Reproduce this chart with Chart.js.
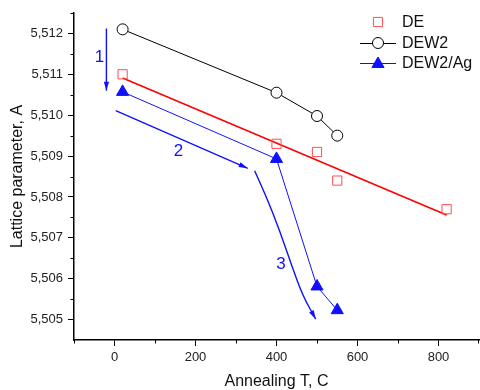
<!DOCTYPE html>
<html>
<head>
<meta charset="utf-8">
<title>Lattice parameter vs annealing temperature</title>
<script src="https://cdn.jsdelivr.net/npm/chart.js@4.4.1/dist/chart.umd.min.js"></script>
<style>
    html, body { margin: 0; padding: 0; background: #fff; }
    #wrap { width: 480px; height: 390px; }
</style>
</head>
<body>
<div id="wrap"><canvas id="latticeChart"></canvas></div>
<script>
// Annealing temperature (C) and lattice parameter (A) per sample
const deT = [20, 400, 500, 550, 820];
const deA = [5.5110, 5.5093, 5.5091, 5.5084, 5.5077];
const dew2T = [20, 400, 500, 550];
const dew2A = [5.5121, 5.51055, 5.50998, 5.5095];
const agT = [20, 400, 500, 550];
const agA = [5.51057, 5.50893, 5.50581, 5.50523];

// linear fit through the DE points
const fitT = [20, 820];
const fitA = [5.51091, 5.50756];

// axis ticks
const xTicks = [0, 200, 400, 600, 800];
const xMinor = [-100, 100, 300, 500, 700, 900];
const yTicks = [5.505, 5.506, 5.507, 5.508, 5.509, 5.510, 5.511, 5.512];
const yMinor = [5.5055, 5.5065, 5.5075, 5.5085, 5.5095, 5.5105, 5.5115, 5.5125];

// annotation arrows, in data coordinates
const arrow1T = [-20, -20];
const arrow1A = [5.51212, 5.51060];
const arrow2T = [3, 329];
const arrow2A = [5.51011, 5.50870];
const arrow3T = [346, 374, 408, 438, 465, 497];
const arrow3A = [5.50864, 5.50803, 5.50717, 5.50631, 5.50558, 5.50501];
const noteText = ['1', '2', '3'];
const noteT = [-37, 158, 411];
const noteA = [5.51141, 5.50911, 5.50636];

const FONT = 'Arial, "Liberation Sans", sans-serif';
const BLUE = '#1010ff';

function pts(xs, ys) {
    return xs.map((x, i) => ({ x: x, y: ys[i] }));
}

function toPx(chart, t, a) {
    return [chart.scales.x.getPixelForValue(t), chart.scales.y.getPixelForValue(a)];
}

function arrowHead(ctx, from, tip) {
    const ang = Math.atan2(tip[1] - from[1], tip[0] - from[0]);
    const len = 9, half = 2.6;
    const bx = tip[0] - len * Math.cos(ang);
    const by = tip[1] - len * Math.sin(ang);
    ctx.beginPath();
    ctx.moveTo(tip[0], tip[1]);
    ctx.lineTo(bx + half * Math.sin(ang), by - half * Math.cos(ang));
    ctx.lineTo(bx - half * Math.sin(ang), by + half * Math.cos(ang));
    ctx.closePath();
    ctx.fill();
}

// minor ticks on both axes
const minorTicks = {
    id: 'minorTicks',
    afterDraw(chart) {
        const ctx = chart.ctx;
        const area = chart.chartArea;
        ctx.save();
        ctx.strokeStyle = '#000';
        ctx.lineWidth = 1;
        ctx.beginPath();
        xMinor.forEach(v => {
            const px = Math.min(Math.round(chart.scales.x.getPixelForValue(v)), area.right - 1) + 0.5;
            ctx.moveTo(px, area.bottom);
            ctx.lineTo(px, area.bottom + 3.5);
        });
        yMinor.forEach(v => {
            const py = Math.round(chart.scales.y.getPixelForValue(v)) + 0.5;
            ctx.moveTo(area.left, py);
            ctx.lineTo(area.left - 3.5, py);
        });
        ctx.stroke();
        ctx.restore();
    }
};

// numbered arrows drawn on the plot
const annotations = {
    id: 'annotations',
    afterDatasetsDraw(chart) {
        const ctx = chart.ctx;
        ctx.save();
        ctx.strokeStyle = BLUE;
        ctx.fillStyle = BLUE;
        ctx.lineWidth = 1.4;

        // straight arrows 1 and 2
        [[arrow1T, arrow1A], [arrow2T, arrow2A]].forEach(([ts, as]) => {
            const a = toPx(chart, ts[0], as[0]);
            const b = toPx(chart, ts[1], as[1]);
            ctx.beginPath();
            ctx.moveTo(a[0], a[1]);
            ctx.lineTo(b[0], b[1]);
            ctx.stroke();
            arrowHead(ctx, a, b);
        });

        // curved arrow 3
        const p = arrow3T.map((t, i) => toPx(chart, t, arrow3A[i]));
        ctx.beginPath();
        ctx.moveTo(p[0][0], p[0][1]);
        for (let i = 1; i < p.length - 1; i++) {
            const mx = (p[i][0] + p[i + 1][0]) / 2;
            const my = (p[i][1] + p[i + 1][1]) / 2;
            ctx.quadraticCurveTo(p[i][0], p[i][1], mx, my);
        }
        const last = p[p.length - 1];
        ctx.lineTo(last[0], last[1]);
        ctx.stroke();
        arrowHead(ctx, p[p.length - 2], last);

        // labels
        ctx.font = '17px ' + FONT;
        ctx.textAlign = 'center';
        ctx.textBaseline = 'middle';
        noteText.forEach((txt, i) => {
            const q = toPx(chart, noteT[i], noteA[i]);
            ctx.fillText(txt, q[0], q[1]);
        });
        ctx.restore();
    }
};

// legend with line + marker samples
const sampleLegend = {
    id: 'sampleLegend',
    afterDraw(chart) {
        const ctx = chart.ctx;
        const rows = [
            { text: 'DE', line: null, style: 'rect', r: 6.5, fill: 'rgba(0,0,0,0)', stroke: '#ff4d4d', y: 22 },
            { text: 'DEW2', line: '#000', style: 'circle', r: 5.5, fill: '#fff', stroke: '#000', y: 43 },
            { text: 'DEW2/Ag', line: BLUE, style: 'triangle', r: 7, fill: BLUE, stroke: BLUE, y: 63 }
        ];
        ctx.save();
        rows.forEach(row => {
            if (row.line) {
                ctx.strokeStyle = row.line;
                ctx.lineWidth = 1;
                ctx.beginPath();
                ctx.moveTo(360, row.y + 0.5);
                ctx.lineTo(396, row.y + 0.5);
                ctx.stroke();
            }
            ctx.fillStyle = row.fill;
            ctx.strokeStyle = row.stroke;
            ctx.lineWidth = 1;
            Chart.helpers.drawPoint(ctx, { pointStyle: row.style, radius: row.r, rotation: 0, borderWidth: 1 }, 378, row.y + (row.style === 'triangle' ? 1 : 0));
            ctx.fillStyle = '#111';
            ctx.font = '16px ' + FONT;
            ctx.textAlign = 'left';
            ctx.textBaseline = 'middle';
            ctx.fillText(row.text, 402, row.y + 1);
        });
        ctx.restore();
    }
};

new Chart(document.getElementById('latticeChart'), {
    type: 'scatter',
    data: {
        datasets: [
            {
                label: 'DE',
                data: pts(deT, deA),
                showLine: false,
                pointStyle: 'rect',
                pointRadius: 6.5,
                pointBorderColor: '#ff4d4d',
                pointBackgroundColor: 'rgba(0,0,0,0)',
                pointBorderWidth: 1
            },
            {
                label: 'DE fit',
                data: pts(fitT, fitA),
                showLine: true,
                pointRadius: 0,
                borderColor: '#ff0000',
                borderWidth: 1.6
            },
            {
                label: 'DEW2',
                data: pts(dew2T, dew2A),
                showLine: true,
                borderColor: '#000',
                borderWidth: 1,
                pointStyle: 'circle',
                pointRadius: 5.5,
                pointBackgroundColor: '#fff',
                pointBorderColor: '#000',
                pointBorderWidth: 1
            },
            {
                label: 'DEW2/Ag',
                data: pts(agT, agA),
                showLine: true,
                borderColor: BLUE,
                borderWidth: 1,
                pointStyle: 'triangle',
                pointRadius: 7,
                pointBackgroundColor: BLUE,
                pointBorderColor: BLUE,
                pointBorderWidth: 1
            }
        ]
    },
    options: {
        responsive: true,
        maintainAspectRatio: false,
        animation: false,
        layout: { autoPadding: false, padding: { top: 13, right: 1, left: 0, bottom: 0 } },
        plugins: {
            legend: { display: false },
            tooltip: { enabled: false }
        },
        scales: {
            x: {
                type: 'linear',
                min: -100,
                max: 900,
                afterBuildTicks: s => { s.ticks = xTicks.map(v => ({ value: v })); },
                afterFit: s => { s.height = 50; s.paddingLeft = 0; s.paddingRight = 0; },
                grid: { drawOnChartArea: false, drawTicks: true, tickLength: 6, color: '#000', lineWidth: 1 },
                border: { display: true, color: '#000', width: 1.5 },
                ticks: { color: '#222', font: { family: FONT, size: 13 }, padding: 4, maxRotation: 0, autoSkip: false },
                title: { display: true, text: 'Annealing T, C', color: '#111', font: { family: FONT, size: 16, lineHeight: 1 }, padding: 0 }
            },
            y: {
                type: 'linear',
                min: 5.5045,
                max: 5.5125,
                afterBuildTicks: s => { s.ticks = yTicks.map(v => ({ value: v })); },
                afterFit: s => { s.width = 74; s.paddingTop = 0; s.paddingBottom = 0; },
                grid: { drawOnChartArea: false, drawTicks: true, tickLength: 6, color: '#000', lineWidth: 1 },
                border: { display: true, color: '#000', width: 1.5 },
                ticks: {
                    color: '#222',
                    font: { family: FONT, size: 13 },
                    padding: 5,
                    autoSkip: false,
                    callback: v => v.toFixed(3).replace('.', ',')
                },
                title: { display: true, text: 'Lattice parameter, A', color: '#111', font: { family: FONT, size: 16, lineHeight: 1 }, padding: { top: 9.5, bottom: 0 } }
            }
        }
    },
    plugins: [minorTicks, annotations, sampleLegend]
});
</script>
</body>
</html>
